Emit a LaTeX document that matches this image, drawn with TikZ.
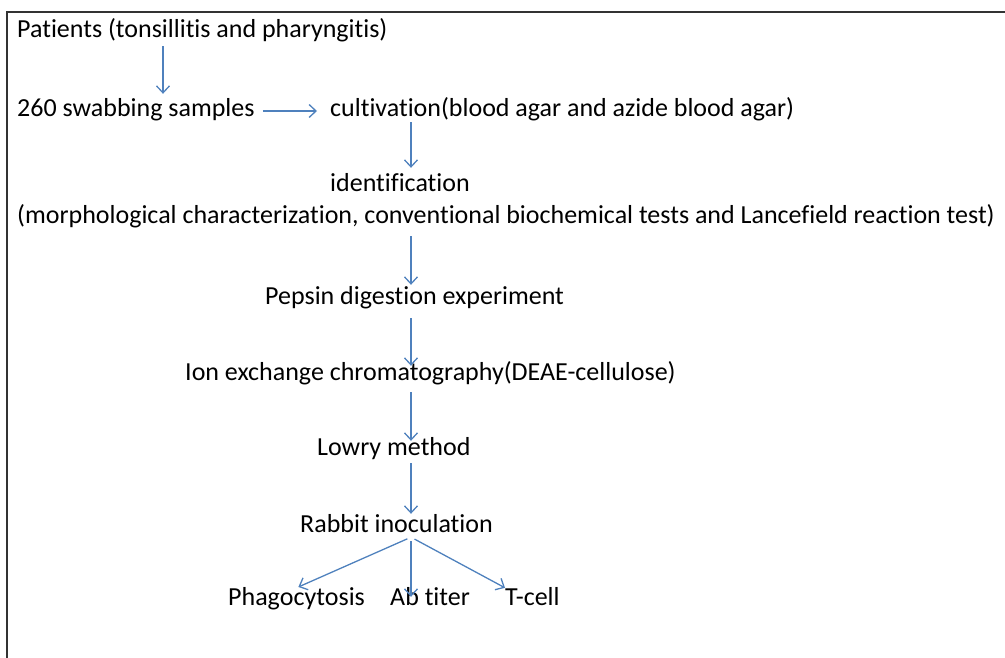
\documentclass[tikz,border=0pt]{standalone}
\usepackage{fontspec}
\setmainfont{Carlito}[Ligatures=NoCommon]
\usepackage{tikz}
\usetikzlibrary{arrows.meta}
\usepackage{xcolor}
\definecolor{flowblue}{RGB}{79,129,189}
\tikzset{
	stage/.style = {anchor=base west, inner sep=0pt, text height=17pt, text depth=5pt, text=black, font=\fontsize{26}{31}\selectfont},
	flow/.style = {draw=flowblue, line width=1.3pt, -{Straight Barb[length=7pt, width=13pt]}, shorten <=3pt, shorten >=2pt}
}

\begin{document}
\begin{tikzpicture}[x=1pt, y=-1pt]
	\useasboundingbox (0,0) rectangle (1005,658);
	\draw[line width=1.8pt, black!80] (7,658) -- (7,12) -- (1005,12);
	\coordinate (col) at (163,0);
	\coordinate (spine) at (411,0);
	\node[stage] (patients) at (17,38) {Patients (tonsillitis and pharyngitis)};
	\node[stage] (swab) at (17,117) {260 swabbing samples};
	\node[stage] (cult) at (330,117) {cultivation(blood agar and azide blood agar)};
	\node[stage] (ident) at (330,192) {identification};
	\node[stage] (tests) at (17,224) {(morphological characterization, conventional biochemical tests and Lancefield reaction test)};
	\node[stage] (pepsin) at (265,304) {Pepsin digestion experiment};
	\node[stage] (ion) at (185,380) {Ion exchange chromatography(DEAE-cellulose)};
	\node[stage] (lowry) at (317,455) {Lowry method};
	\node[stage] (rabbit) at (300,532) {Rabbit inoculation};
	\node[stage] (phago) at (228,605) {Phagocytosis};
	\node[stage] (abt) at (390,605) {Ab titer};
	\node[stage] (tcell) at (505,605) {T-cell};
	\draw[flow, shorten >=6pt] (patients.south -| col) -- (swab.north -| col);
	\draw[flow, shorten <=8pt, shorten >=13pt] (swab.east) -- (cult.west);
	\draw[flow, shorten <=0pt, shorten >=7pt] (cult.south -| spine) -- (ident.north -| spine);
	\draw[flow, shorten <=7pt] (tests.south -| spine) -- (pepsin.north -| spine);
	\draw[flow, shorten <=9pt, shorten >=-3pt] (pepsin.south -| spine) -- (ion.north -| spine);
	\draw[flow, shorten <=7pt, shorten >=-3pt] (ion.south -| spine) -- (lowry.north -| spine);
	\draw[flow, shorten >=1pt] (lowry.south -| spine) -- (rabbit.north -| spine);
	\draw[flow, shorten <=4pt] (rabbit.south -| spine) -- (phago.north);
	\draw[flow, shorten <=4pt, shorten >=-9pt] (rabbit.south -| spine) -- (abt.north -| spine);
	\draw[flow, shorten <=4pt, shorten >=0pt] (rabbit.south -| spine) -- (tcell.north west);
\end{tikzpicture}
\end{document}
